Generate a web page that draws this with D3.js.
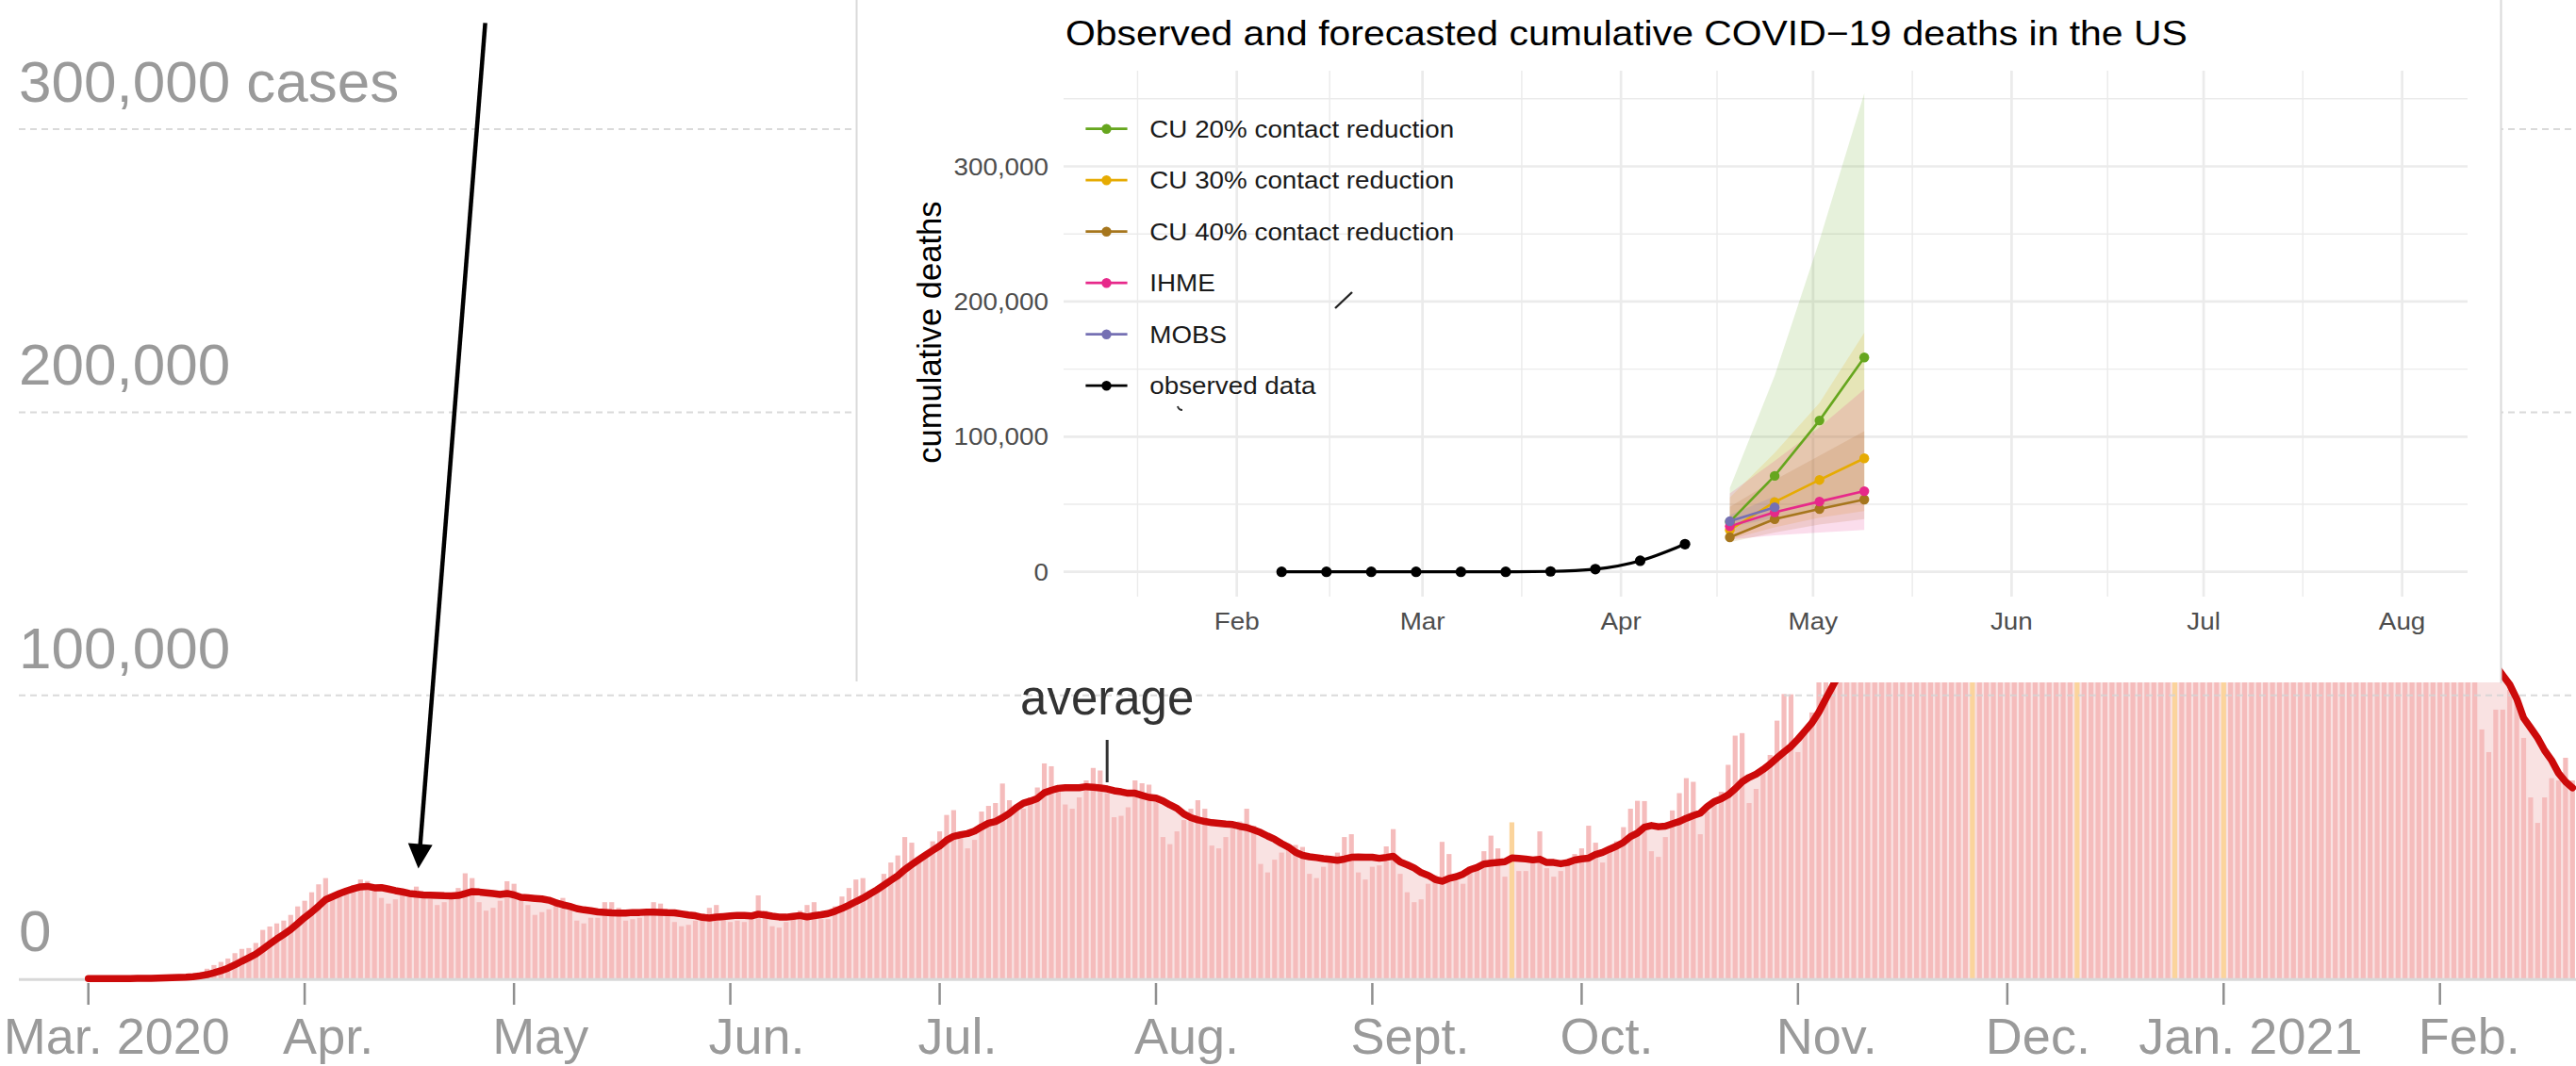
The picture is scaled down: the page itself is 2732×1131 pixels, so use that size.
<!DOCTYPE html>
<html><head><meta charset="utf-8">
<script src="https://cdn.jsdelivr.net/npm/d3@7"></script>
<style>
html,body{margin:0;padding:0;background:#fff;}
svg{display:block;font-family:"Liberation Sans",Arial,Helvetica,sans-serif;}
</style></head><body>
<svg id="c" width="2732" height="1131"></svg>
<script>
// ===================== MAIN CHART DATA =====================
// Daily new US cases, thousands, one row per week (Sun..Sat), from 2020-03-01
const startDate = "2020-03-01";
const dailyCasesK = [
  0.01,0.02,0.02,0.03,0.05,0.07,0.1,
  0.12,0.18,0.28,0.42,0.5,0.6,0.7,
  0.9,1.4,2.3,3.5,4.8,5.9,7.1,
  9.0,10.5,10.8,12.6,17.2,18.4,19.5,
  20.5,22.5,25.5,27.5,30.5,33.3,35.5,
  28.0,30.0,32.0,33.0,35.0,34.5,32.0,
  28.5,26.5,28.0,30.0,31.0,32.5,30.5,
  28.0,26.0,27.0,29.5,32.0,37.2,35.5,
  27.0,24.0,25.0,27.5,34.4,33.5,29.5,
  26.0,22.5,23.5,24.5,28.0,28.5,25.5,
  20.5,19.5,21.5,21.5,27.0,27.0,25.0,
  20.5,21.0,21.5,22.5,27.0,26.5,24.0,
  20.0,18.5,19.0,20.5,23.0,25.0,26.0,
  21.5,20.0,20.5,20.0,22.0,29.4,24.0,
  18.5,18.0,20.0,22.0,24.0,26.0,27.0,
  21.0,21.0,25.5,29.0,32.0,35.0,35.5,
  31.0,31.5,37.0,41.0,43.5,50.0,48.0,
  43.0,43.0,48.5,52.0,57.8,59.5,51.8,
  46.0,49.0,59.0,61.0,62.0,68.9,63.0,
  60.0,60.0,64.0,67.5,76.0,75.0,68.0,
  61.5,60.0,64.0,70.0,74.4,73.5,65.5,
  57.0,57.5,60.5,70.0,69.0,68.5,64.0,
  50.0,47.5,52.0,56.0,60.0,63.0,60.0,
  47.0,46.0,50.0,55.0,55.5,60.0,54.0,
  40.5,37.5,42.0,44.5,46.5,47.2,46.5,
  37.0,35.5,39.5,42.5,44.5,50.0,51.0,
  37.5,35.0,39.5,40.0,46.7,52.8,37.0,
  30.5,27.0,28.0,33.5,36.5,48.3,44.0,
  34.5,33.5,39.0,39.0,45.0,50.5,46.0,
  36.0,55.2,38.0,38.0,43.0,52.0,39.0,
  36.0,38.0,41.0,44.0,46.0,54.0,48.0,
  41.0,46.0,48.5,53.5,60.0,62.8,62.7,
  45.0,43.0,50.0,59.4,65.5,70.8,69.5,
  51.0,59.0,62.5,66.0,75.5,85.8,86.7,
  62.0,67.0,74.0,79.0,91.1,100.5,100.4,
  80.0,87.0,94.0,106.0,124.0,133.0,132.0,
  110,120,137,142,160,180,166,
  138,150,158,168,185,195,196,
  145,167,175,180,108,200,145,
  140,160,180,200,218,230,202,
  180,195,215,220,225,245,204,
  188,195,197,245,238,250,241,
  188,195,197,230,190,108,222,
  155,170,200,233,230,155,257,
  210,210,237,255,280,300,293,
  213,218,223,232,241,252,266,
  178,146,179,185,196,202,244,
  130,145,151,155,166,177,196,
  115,115,113,119,125,134,133,
  88,80,95,95,102,99,85,
  64,55,64,70.8,70,78,70
];
// days flagged as reporting anomalies (drawn in yellow, left out of the 7-day average)
const highlightDates = ["2020-09-21","2020-11-26","2020-12-11","2020-12-25","2021-01-01"];
const mainTickDates = ["2020-03-01","2020-04-01","2020-05-01","2020-06-01","2020-07-01","2020-08-01",
  "2020-09-01","2020-10-01","2020-11-01","2020-12-01","2021-01-01","2021-02-01"];
const mainTickLabels = ["Mar. 2020","Apr.","May","Jun.","Jul.","Aug.","Sept.","Oct.","Nov.","Dec.","Jan. 2021","Feb."];
const mainYTicks = [0,100000,200000,300000];
const mainYLabels = ["0","100,000","200,000","300,000 cases"];
const annotationDate = "2020-07-25";
const annotationText = "average";
const arrowTail = {date:"2020-04-26T21:00:00Z", value:337500};
const arrowTip  = {date:"2020-04-17T07:00:00Z", value:38900};

// ===================== INSET DATA =====================
const insetTitle = "Observed and forecasted cumulative COVID\u221219 deaths in the US";
const insetYTicks = [0,100000,200000,300000];
const insetYMinor = [50000,150000,250000,350000];
const insetMonthLabels = ["Feb","Mar","Apr","May","Jun","Jul","Aug"];
const observedDates = ["2020-02-08","2020-02-15","2020-02-22","2020-02-29","2020-03-07","2020-03-14",
  "2020-03-21","2020-03-28","2020-04-04","2020-04-11"];
const observedDeaths = [0,0,0,0,0,0,300,2000,8200,20500];
const forecastDates = ["2020-04-18","2020-04-25","2020-05-02","2020-05-09"];
const cu20Mid = [37000,71000,112000,158600];
const cu20Lo  = [28000,38000,47000,53000];
const cu20Hi  = [62000,145000,245000,354000];
const cu30Mid = [31000,51600,68000,84000];
const cu30Lo  = [24000,33000,40000,45000];
const cu30Hi  = [55000,88000,125000,177000];
const cu40Mid = [25600,39000,46500,53500];
const cu40Lo  = [22000,29000,35000,39000];
const cu40Hi  = [48000,68000,86000,104000];
const ihmeMid = [33700,44000,52000,59700];
const ihmeLo  = [24000,27000,29000,31000];
const ihmeHi  = [58000,82000,107000,135000];
const mobsDates = ["2020-04-18","2020-04-25"];
const mobsMid = [37400,47800];
const mobsLo  = [33000,40000];
const mobsHi  = [42000,56000];
const seriesNames = ["CU 20% contact reduction","CU 30% contact reduction","CU 40% contact reduction","IHME","MOBS","observed data"];
const seriesColors = ["#66a61e","#e6ab02","#a6761d","#e7298a","#7570b3","#000000"];

// ===================== DRAW =====================
const svg = d3.select("#c");
const W = 2732;
const P = s => new Date(s.length===10 ? s+"T00:00:00Z" : s);
const fmt = d3.utcFormat("%Y-%m-%d");

const hl = new Set(highlightDates);
const t0 = P(startDate);
const days = dailyCasesK.map((v,i)=>{ const date=d3.utcDay.offset(t0,i); return {date, value:v*1000, flag:hl.has(fmt(date))}; });
days.forEach((d,i)=>{
  const win = days.slice(Math.max(0,i-6),i+1).filter(e=>!e.flag);
  d.avg = win.length ? d3.mean(win, e=>e.value) : d.value;
});

const xMain = d3.scaleUtc().domain([P("2020-03-01"),P("2021-02-01")]).range([93.7,2587.7]);
const yMain = d3.scaleLinear().domain([0,300000]).range([1038.3,137]);
const bw = 5.2;

const gMain = svg.append("g");
gMain.append("path").datum(days)
  .attr("d", d3.area().x(d=>xMain(d.date)).y0(yMain(0)).y1(d=>yMain(d.avg)))
  .attr("fill","#f9e2e2");
gMain.selectAll("rect.bar").data(days).join("rect").attr("class","bar")
  .attr("x",d=>xMain(d.date)-bw/2).attr("width",bw)
  .attr("y",d=>yMain(d.value)).attr("height",d=>yMain(0)-yMain(d.value))
  .attr("fill",d=>d.flag?"#fbd49c":"#f5bcbc");

// gridlines
gMain.selectAll("line.grid").data(mainYTicks.filter(v=>v>0)).join("line").attr("class","grid")
  .attr("x1",20).attr("x2",W).attr("y1",d=>yMain(d)).attr("y2",d=>yMain(d))
  .attr("stroke","#d4d4d4").attr("stroke-opacity",0.85).attr("stroke-width",2).attr("stroke-dasharray","7,5");
gMain.append("line").attr("x1",20).attr("x2",W).attr("y1",yMain(0)+1).attr("y2",yMain(0)+1)
  .attr("stroke","#d8d8d8").attr("stroke-width",3);
// y labels
gMain.selectAll("text.ylab").data(mainYTicks).join("text").attr("class","ylab")
  .attr("x",20).attr("y",d=>yMain(d)-29).attr("font-size",62).attr("fill","#9a9a9a")
  .text((d,i)=>mainYLabels[i]);

// average line
gMain.append("path").datum(days)
  .attr("d", d3.line().x(d=>xMain(d.date)).y(d=>yMain(d.avg)))
  .attr("fill","none").attr("stroke","#cc0a0a").attr("stroke-width",7.5)
  .attr("stroke-linejoin","round").attr("stroke-linecap","round");

// x ticks
const tickDates = mainTickDates.map(P);
gMain.selectAll("line.xt").data(tickDates).join("line").attr("class","xt")
  .attr("x1",d=>xMain(d)).attr("x2",d=>xMain(d)).attr("y1",1043).attr("y2",1066)
  .attr("stroke","#8f8f8f").attr("stroke-width",2.5);
gMain.selectAll("text.xl").data(tickDates).join("text").attr("class","xl")
  .attr("x",(d,i)=>xMain(d)+(/\d{4}/.test(mainTickLabels[i])?-90:-23))
  .attr("y",1118).attr("font-size",54).attr("fill","#9a9a9a")
  .text((d,i)=>mainTickLabels[i]);

// annotation
const ax = xMain(P(annotationDate));
gMain.append("text").attr("x",ax).attr("y",758).attr("text-anchor","middle")
  .attr("font-size",51).attr("fill","#333").text(annotationText);
gMain.append("line").attr("x1",ax).attr("x2",ax).attr("y1",785).attr("y2",830)
  .attr("stroke","#333").attr("stroke-width",3);

// arrow
{
  const x1=xMain(P(arrowTail.date)), y1=yMain(arrowTail.value);
  const x2=xMain(P(arrowTip.date)), y2=yMain(arrowTip.value);
  const L=Math.hypot(x2-x1,y2-y1), ux=(x2-x1)/L, uy=(y2-y1)/L;
  const hl2=26, hw=13;
  const bx=x2-ux*hl2, by=y2-uy*hl2;
  gMain.append("line").attr("x1",x1).attr("y1",y1).attr("x2",bx+ux*2).attr("y2",by+uy*2)
    .attr("stroke","#000").attr("stroke-width",4.5);
  gMain.append("path").attr("d",`M${x2},${y2}L${bx-uy*hw},${by+ux*hw}L${bx+uy*hw},${by-ux*hw}Z`).attr("fill","#000");
}

// ===================== INSET =====================
const gIn = svg.append("g");
gIn.append("rect").attr("x",908).attr("y",-1).attr("width",1745).attr("height",725).attr("fill","#fff");
gIn.append("line").attr("x1",908.5).attr("x2",908.5).attr("y1",0).attr("y2",723).attr("stroke","#dadada").attr("stroke-width",2);
gIn.append("line").attr("x1",2652.5).attr("x2",2652.5).attr("y1",0).attr("y2",725).attr("stroke","#dadada").attr("stroke-width",2);

const panel = {left:1128, right:2617, top:75, bottom:633};
const xIn = d3.scaleUtc().domain([P("2020-02-01"),P("2020-08-01")]).range([1311.7,2547.6]);
const yIn = d3.scaleLinear().domain([0,300000]).range([606.7,176.5]);
const gridCol = "#ebebeb";

const months = d3.utcMonths(P("2020-01-01"),P("2020-09-02"));
const minorX = d3.pairs(months).map(([a,b])=>new Date((+a + +b)/2)).filter(d=>xIn(d)>panel.left && xIn(d)<panel.right);
const majorX = months.filter(d=>xIn(d)>panel.left && xIn(d)<panel.right);

gIn.selectAll("line.ymin").data(insetYMinor).join("line")
  .attr("x1",panel.left).attr("x2",panel.right).attr("y1",d=>yIn(d)).attr("y2",d=>yIn(d))
  .attr("stroke",gridCol).attr("stroke-width",1.4);
gIn.selectAll("line.xmin").data(minorX).join("line")
  .attr("x1",d=>xIn(d)).attr("x2",d=>xIn(d)).attr("y1",panel.top).attr("y2",panel.bottom)
  .attr("stroke",gridCol).attr("stroke-width",1.4);
gIn.selectAll("line.ymaj").data(insetYTicks).join("line")
  .attr("x1",panel.left).attr("x2",panel.right).attr("y1",d=>yIn(d)).attr("y2",d=>yIn(d))
  .attr("stroke",gridCol).attr("stroke-width",2.7);
gIn.selectAll("line.xmaj").data(majorX).join("line")
  .attr("x1",d=>xIn(d)).attr("x2",d=>xIn(d)).attr("y1",panel.top).attr("y2",panel.bottom)
  .attr("stroke",gridCol).attr("stroke-width",2.7);

// forecast series
const fd = forecastDates.map(P);
const series = [
  {dates:fd, mid:cu20Mid, lo:cu20Lo, hi:cu20Hi, color:seriesColors[0]},
  {dates:fd, mid:cu30Mid, lo:cu30Lo, hi:cu30Hi, color:seriesColors[1]},
  {dates:fd, mid:cu40Mid, lo:cu40Lo, hi:cu40Hi, color:seriesColors[2]},
  {dates:fd, mid:ihmeMid, lo:ihmeLo, hi:ihmeHi, color:seriesColors[3]},
  {dates:mobsDates.map(P), mid:mobsMid, lo:mobsLo, hi:mobsHi, color:seriesColors[4]}
];
const toPts = s => s.dates.map((d,i)=>({date:d, mid:s.mid[i], lo:s.lo[i], hi:s.hi[i]}));
series.forEach(s=>{
  gIn.append("path").datum(toPts(s))
    .attr("d", d3.area().x(d=>xIn(d.date)).y0(d=>yIn(d.lo)).y1(d=>yIn(d.hi)))
    .attr("fill",s.color).attr("fill-opacity",0.16);
});
series.forEach(s=>{
  gIn.append("path").datum(toPts(s))
    .attr("d", d3.line().x(d=>xIn(d.date)).y(d=>yIn(d.mid)))
    .attr("fill","none").attr("stroke",s.color).attr("stroke-width",2.6);
});
series.forEach(s=>{
  gIn.selectAll(null).data(toPts(s)).join("circle")
    .attr("cx",d=>xIn(d.date)).attr("cy",d=>yIn(d.mid)).attr("r",5.2).attr("fill",s.color);
});
// observed
const obs = observedDates.map((d,i)=>({date:P(d), v:observedDeaths[i]}));
gIn.append("path").datum(obs)
  .attr("d", d3.line().x(d=>xIn(d.date)).y(d=>yIn(d.v)).curve(d3.curveMonotoneX))
  .attr("fill","none").attr("stroke","#000").attr("stroke-width",3.2);
gIn.selectAll("circle.obs").data(obs).join("circle").attr("class","obs")
  .attr("cx",d=>xIn(d.date)).attr("cy",d=>yIn(d.v)).attr("r",5.6).attr("fill","#000");

// stray scan marks
gIn.append("line").attr("x1",1416).attr("y1",327).attr("x2",1434).attr("y2",310).attr("stroke","#222").attr("stroke-width",2.4);
gIn.append("path").attr("d","M1249,431 Q1250,435 1254,435").attr("fill","none").attr("stroke","#333").attr("stroke-width",2);

function stretch(sel,k){ sel.each(function(){ const w=this.getComputedTextLength(); this.setAttribute("textLength",w*k); this.setAttribute("lengthAdjust","spacingAndGlyphs"); }); }

// axes labels
const yl = gIn.selectAll("text.iy").data(insetYTicks).join("text").attr("class","iy")
  .attr("x",1112).attr("y",d=>yIn(d)+9).attr("text-anchor","end")
  .attr("font-size",25.5).attr("fill","#4d4d4d").text(d=>d3.format(",")(d));
stretch(yl,1.09);
const xl = gIn.selectAll("text.ix").data(majorX).join("text").attr("class","ix")
  .attr("x",d=>xIn(d)).attr("y",668).attr("text-anchor","middle")
  .attr("font-size",26.5).attr("fill","#4d4d4d").text((d,i)=>insetMonthLabels[i]);
stretch(xl,1.05);
gIn.append("text").attr("transform","translate(998,352.6) rotate(-90)").attr("text-anchor","middle")
  .attr("font-size",34.5).attr("fill","#000").text("cumulative deaths");
const tt = gIn.append("text").attr("x",1130).attr("y",48.3).attr("font-size",37).attr("fill","#000").text(insetTitle);
stretch(tt,1.105);

// legend
const lg = gIn.append("g");
seriesNames.forEach((name,i)=>{
  const yy = 136.7 + i*54.5;
  lg.append("line").attr("x1",1151.4).attr("x2",1195.6).attr("y1",yy).attr("y2",yy)
    .attr("stroke",seriesColors[i]).attr("stroke-width",2.8);
  lg.append("circle").attr("cx",1173.5).attr("cy",yy).attr("r",5.2).attr("fill",seriesColors[i]);
  const t = lg.append("text").attr("x",1219.3).attr("y",yy+9).attr("font-size",25.5).attr("fill","#1a1a1a").text(name);
  stretch(t,1.09);
});
</script>
</body></html>
